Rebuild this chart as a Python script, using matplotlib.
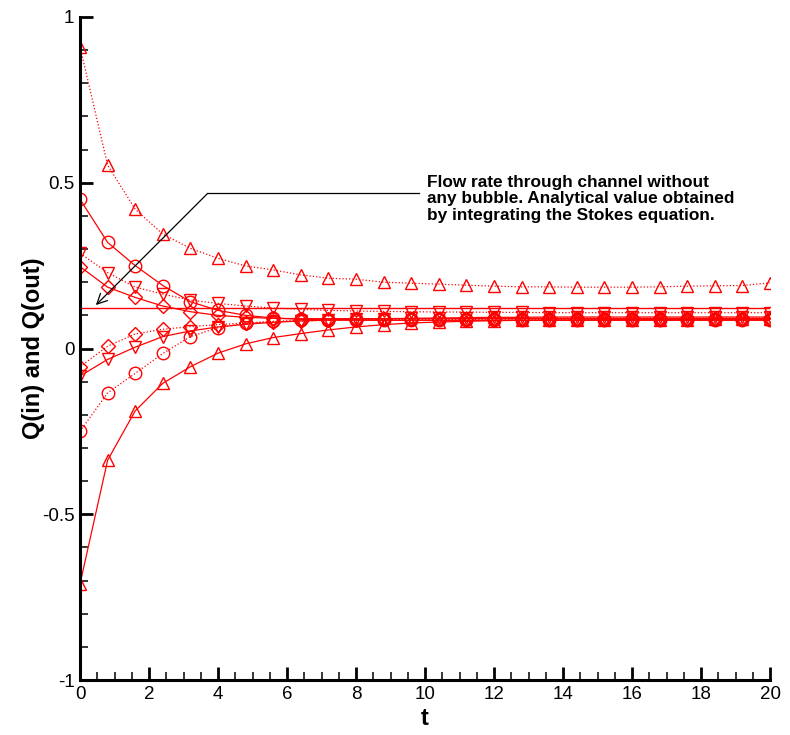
#!/usr/bin/env python

import matplotlib
matplotlib.use('Agg')
import matplotlib.pyplot as plt
import numpy as np
from matplotlib.ticker import MultipleLocator

plt.rcParams['font.family'] = ['Liberation Sans', 'DejaVu Sans']
plt.rcParams['axes.unicode_minus'] = False

# sample times (markers every 0.8)
t = np.arange(26) * 0.8

# series
up_dotted = [0.91, 0.553, 0.42, 0.345, 0.302, 0.272, 0.249, 0.237, 0.222, 0.212,
             0.209, 0.200, 0.197, 0.194, 0.191, 0.188, 0.186, 0.186, 0.185, 0.185,
             0.185, 0.186, 0.188, 0.189, 0.190, 0.198]
up_solid = [-0.71, -0.337, -0.188, -0.105, -0.055, -0.014, 0.014, 0.033, 0.045, 0.056,
            0.065, 0.072, 0.077, 0.080, 0.082, 0.084, 0.085, 0.086, 0.086, 0.087,
            0.087, 0.087, 0.087, 0.088, 0.088, 0.088]
circ_solid = [0.45, 0.32, 0.25, 0.19, 0.141, 0.115, 0.100, 0.092, 0.088, 0.086,
              0.085, 0.085, 0.085, 0.085, 0.085, 0.085, 0.085, 0.085, 0.085, 0.085,
              0.085, 0.085, 0.085, 0.085, 0.085, 0.085]
circ_dotted = [-0.25, -0.134, -0.075, -0.015, 0.036, 0.063, 0.076, 0.082, 0.085, 0.087,
               0.088, 0.088, 0.088, 0.088, 0.088, 0.088, 0.088, 0.088, 0.088, 0.088,
               0.088, 0.088, 0.088, 0.088, 0.088, 0.088]
diam_solid = [0.247, 0.185, 0.154, 0.128, 0.111, 0.100, 0.094, 0.091, 0.090, 0.090,
              0.090, 0.090, 0.090, 0.090, 0.090, 0.090, 0.090, 0.090, 0.090, 0.090,
              0.090, 0.090, 0.090, 0.090, 0.090, 0.090]
down_dotted = [0.287, 0.229, 0.185, 0.164, 0.146, 0.136, 0.128, 0.122, 0.118, 0.115,
               0.113, 0.112, 0.111, 0.110, 0.110, 0.109, 0.109, 0.108, 0.108, 0.108,
               0.108, 0.108, 0.108, 0.108, 0.108, 0.108]
diam_dotted = [-0.055, 0.007, 0.044, 0.058, 0.066, 0.072, 0.077, 0.080, 0.083, 0.085,
               0.087, 0.088, 0.089, 0.090, 0.090, 0.091, 0.091, 0.092, 0.092, 0.092,
               0.092, 0.092, 0.092, 0.092, 0.092, 0.092]
down_solid = [-0.083, -0.033, 0.004, 0.036, 0.053, 0.065, 0.073, 0.079, 0.083, 0.086,
              0.088, 0.090, 0.091, 0.092, 0.093, 0.094, 0.094, 0.095, 0.095, 0.095,
              0.095, 0.095, 0.095, 0.095, 0.095, 0.095]
analytical = 0.123

series = [
    (up_dotted, '^', ':'),
    (up_solid, '^', '-'),
    (circ_solid, 'o', '-'),
    (circ_dotted, 'o', ':'),
    (diam_solid, 'D', '-'),
    (down_dotted, 'v', ':'),
    (diam_dotted, 'D', ':'),
    (down_solid, 'v', '-'),
]

fig = plt.figure(figsize=(7.9, 7.35), dpi=100)
ax = fig.add_axes([0.1013, 0.0748, 0.8734, 0.9021])

red = '#ff0000'
for vals, mk, ls in series:
    ms = 7 if mk == 'D' else 9
    ax.plot(t, vals, color=red, linestyle=ls, linewidth=0.9, marker=mk,
            markersize=ms, markerfacecolor='none', markeredgecolor=red,
            markeredgewidth=1.0)

ax.plot([0, 20], [analytical, analytical], color=red, linewidth=1.0)

# annotation with elbow arrow
ax.plot([3.70, 9.83], [0.468, 0.468], color='black', linewidth=0.9)
ax.annotate('', xy=(0.46, 0.131), xytext=(3.70, 0.468),
            arrowprops=dict(arrowstyle='->', color='black', lw=0.9,
                            mutation_scale=18, shrinkA=0, shrinkB=0))
ax.text(10.05, 0.452, 'Flow rate through channel without\n'
        'any bubble. Analytical value obtained\n'
        'by integrating the Stokes equation.',
        fontsize=12.4, fontweight='bold', va='center', ha='left',
        linespacing=1.12)

ax.set_xlim(0, 20)
ax.set_ylim(-1, 1)
ax.xaxis.set_major_locator(MultipleLocator(2))
ax.xaxis.set_minor_locator(MultipleLocator(0.5))
ax.yaxis.set_major_locator(MultipleLocator(0.5))
ax.yaxis.set_minor_locator(MultipleLocator(0.1))
ax.set_yticks([-1, -0.5, 0, 0.5, 1])
ax.set_yticklabels(['-1', '-0.5', '0', '0.5', '1'])

for side in ['top', 'right']:
    ax.spines[side].set_visible(False)
for side in ['left', 'bottom']:
    ax.spines[side].set_linewidth(2.2)

ax.tick_params(which='major', direction='in', length=9.5, width=2.0,
               labelsize=13.5, pad=4)
ax.tick_params(which='minor', direction='in', length=5.8, width=1.1)

ax.set_xlabel('t', fontsize=17, fontweight='bold', labelpad=3)
ax.set_ylabel('Q(in) and Q(out)', fontsize=17, fontweight='bold', labelpad=-2)

fig.savefig('out.png', dpi=100)
